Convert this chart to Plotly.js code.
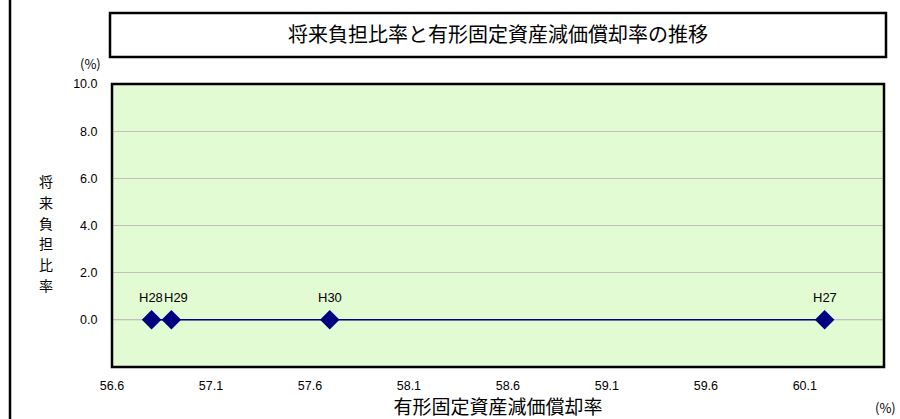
<!DOCTYPE html>
<html>
<head>
<meta charset="utf-8">
<script src="https://cdn.plot.ly/plotly-3.0.1.min.js"></script>
<style>
html,body{margin:0;padding:0;background:#fff;}
#chart{width:900px;height:419px;}
</style>
</head>
<body>
<div id="chart"></div>
<script>
// Data (order: H27, H28, H29, H30)
const years = ["H27", "H28", "H29", "H30"];
const depreciationRate = [60.2, 56.8, 56.9, 57.7];   // 有形固定資産減価償却率 (%)
const futureBurdenRate = [0.0, 0.0, 0.0, 0.0];       // 将来負担比率 (%)
const xTicks = [56.6, 57.1, 57.6, 58.1, 58.6, 59.1, 59.6, 60.1];
const yTicks = [0, 2, 4, 6, 8, 10];
const yTitleChars = ["将", "来", "負", "担", "比", "率"];

const FONT = "'Liberation Sans', Arial, 'Noto Sans CJK JP', sans-serif";
const JFONT = "'Noto Sans CJK JP', 'Liberation Sans', sans-serif";

// pixel->paper helpers for decorations only
const L = 112, R = 884, T = 84, B = 367;
const px = v => (v - L) / (R - L);
const py = v => (B - v) / (B - T);

const trace = {
  x: depreciationRate,
  y: futureBurdenRate,
  mode: "lines+markers",
  type: "scatter",
  line: {color: "#000080", width: 1.5},
  marker: {symbol: "diamond", size: 15, color: "#000080"},
  cliponaxis: false,
  hoverinfo: "none"
};

// data labels, placed from the data arrays
const labelShift = {"H28": -1, "H29": 5};
const labelAnns = years.map((t, i) => ({
  text: t, x: depreciationRate[i], y: futureBurdenRate[i], xref: "x", yref: "y",
  xanchor: "center", yanchor: "middle", yshift: 22, xshift: labelShift[t] || 0,
  showarrow: false, font: {family: FONT, size: 13, color: "#000"}
}));

const yTitleAnns = yTitleChars.map((c, i) => ({
  text: c, xref: "paper", yref: "paper", x: px(46), y: py(181 + i * 20.8),
  xanchor: "center", yanchor: "middle", showarrow: false,
  font: {family: JFONT, size: 14, color: "#000"}
}));

const layout = {
  width: 900, height: 419,
  margin: {l: L, r: 900 - R, t: T, b: 419 - B, pad: 0},
  paper_bgcolor: "#ffffff",
  plot_bgcolor: "#e3fbd3",
  showlegend: false,
  font: {family: FONT, size: 12, color: "#000"},
  title: {
    text: "将来負担比率と有形固定資産減価償却率の推移",
    font: {family: JFONT, size: 20, color: "#000"},
    x: 0.5, xanchor: "center", xref: "paper",
    y: 1 - 35 / 419, yanchor: "middle", yref: "container"
  },
  xaxis: {
    range: [56.6, 60.5],
    tickvals: xTicks,
    ticktext: xTicks.map(v => v.toFixed(1)),
    showgrid: false,
    zeroline: false,
    showline: false,
    ticks: "outside", ticklen: 7, tickcolor: "rgba(0,0,0,0)",
    tickfont: {family: FONT, size: 12.5, color: "#000"},
    automargin: false,
    title: {
      text: "有形固定資産減価償却率",
      font: {family: JFONT, size: 19, color: "#000"},
      standoff: 8
    }
  },
  yaxis: {
    range: [-2, 10],
    tickvals: yTicks,
    ticktext: yTicks.map(v => v.toFixed(1)),
    showgrid: true, gridcolor: "#c0c0c0", gridwidth: 1,
    zeroline: false,
    showline: false,
    ticks: "outside", ticklen: 11, tickcolor: "rgba(0,0,0,0)",
    tickfont: {family: FONT, size: 12.5, color: "#000"},
    automargin: false
  },
  shapes: [
    // zero grid line
    {type: "line", xref: "paper", yref: "y", x0: 0, x1: 1, y0: 0, y1: 0,
     line: {color: "#c0c0c0", width: 1}, layer: "below"},
    // plot frame
    {type: "rect", xref: "paper", yref: "paper", x0: 0, x1: 1, y0: 0, y1: 1,
     line: {color: "#000", width: 2.5}},
    // title box
    {type: "rect", xref: "paper", yref: "paper", x0: px(110), x1: px(886), y0: py(57), y1: py(13),
     line: {color: "#000", width: 2.5}, fillcolor: "rgba(0,0,0,0)"},
    // outer left border
    {type: "line", xref: "paper", yref: "paper", x0: px(10), x1: px(10), y0: py(425), y1: py(-5),
     line: {color: "#000", width: 2.5}}
  ],
  annotations: [
    {text: "(%)", xref: "paper", yref: "paper", x: px(90), y: py(64),
     xanchor: "center", yanchor: "middle", showarrow: false,
     font: {family: JFONT, size: 13, color: "#000"}},
    {text: "(%)", xref: "paper", yref: "paper", x: px(898), y: py(407),
     xanchor: "right", yanchor: "middle", showarrow: false,
     font: {family: JFONT, size: 13, color: "#000"}}
  ].concat(yTitleAnns, labelAnns)
};

Plotly.newPlot("chart", [trace], layout, {displayModeBar: false, staticPlot: true});
</script>
</body>
</html>
